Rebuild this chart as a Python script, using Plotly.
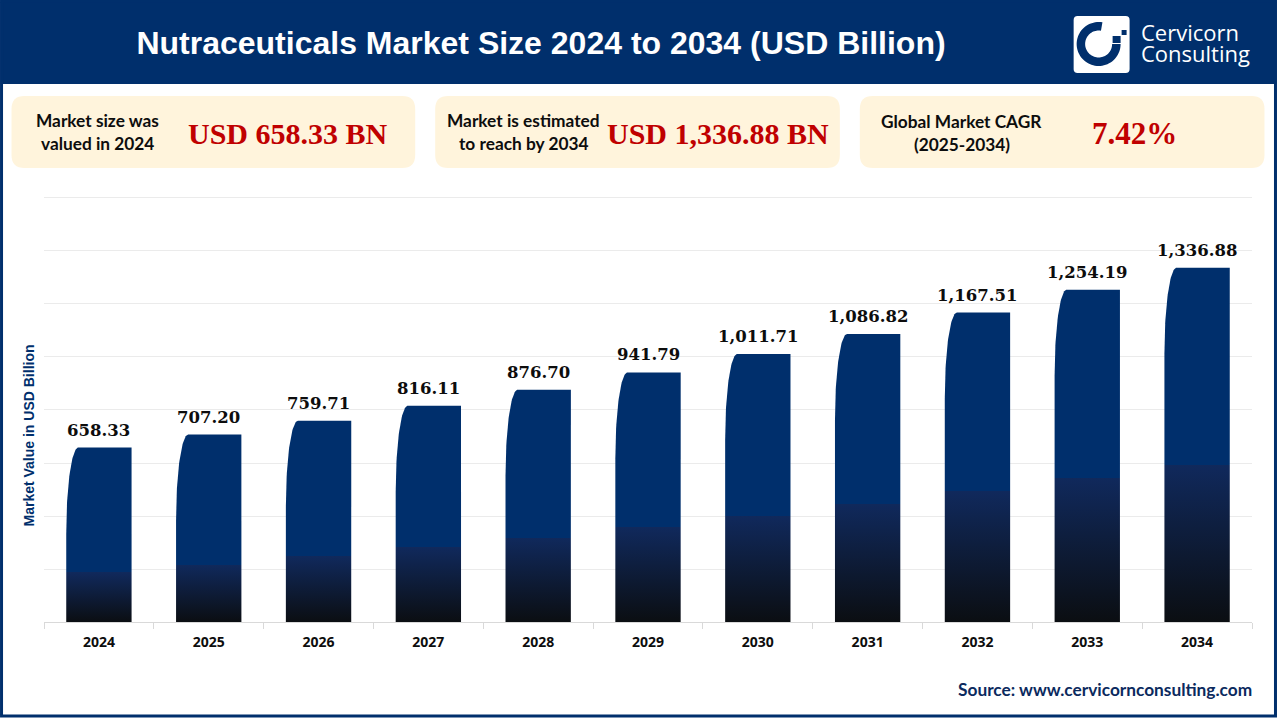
#!/usr/bin/env python3

import numpy as np
import plotly.graph_objects as go

W, H = 1280, 720
# the plot area starts a little above the top gridline, plotly drops gridlines on the very edge
PLOT_L, PLOT_R, PLOT_T, PLOT_B = 43.5, 1252.5, 196, 622
Y_MAX = 1607.5

NAVY = '#002f6c'
RED = '#c00000'
CREAM = '#fff4dc'

years = ['2024', '2025', '2026', '2027', '2028', '2029', '2030', '2031', '2032', '2033', '2034']
values = [658.33, 707.20, 759.71, 816.11, 876.70, 941.79, 1011.71, 1086.82, 1167.51, 1254.19, 1336.88]
value_labels = ['658.33', '707.20', '759.71', '816.11', '876.70', '941.79',
                '1,011.71', '1,086.82', '1,167.51', '1,254.19', '1,336.88']
y_ticks = [0, 200, 400, 600, 800, 1000, 1200, 1400, 1600]

BAR_W = 0.595
CORNER_X = 0.11
CORNER_Y = 325


def px(x):
    return (x - PLOT_L) / (PLOT_R - PLOT_L)


def py(y):
    return (PLOT_B - y) / (PLOT_B - PLOT_T)


def rounded_rect(x0, y0, x1, y1, r):
    pts = 'M{},{} L{},{} Q{},{} {},{} L{},{} Q{},{} {},{} L{},{} Q{},{} {},{} L{},{} Q{},{} {},{} Z'.format(
        px(x0 + r), py(y0), px(x1 - r), py(y0), px(x1), py(y0), px(x1), py(y0 + r),
        px(x1), py(y1 - r), px(x1), py(y1), px(x1 - r), py(y1),
        px(x0 + r), py(y1), px(x0), py(y1), px(x0), py(y1 - r),
        px(x0), py(y0 + r), px(x0), py(y0), px(x0 + r), py(y0))
    return dict(type='path', xref='paper', yref='paper', path=pts, line_width=0)


def polygon(points):
    path = 'M' + ' L'.join('{},{}'.format(px(x), py(y)) for x, y in points) + ' Z'
    return dict(type='path', xref='paper', yref='paper', path=path,
                line_width=0, fillcolor=NAVY, layer='above')


def label(text, x, y, size, color, family, anchor='center'):
    return dict(text=text, x=px(x), y=py(y), xref='paper', yref='paper',
                xanchor=anchor, yanchor='middle', showarrow=False,
                font=dict(size=size, color=color, family=family))


def bar_outline(i, value):
    # square right side, long elliptical curve on the top-left corner
    left, right = i - BAR_W / 2, i + BAR_W / 2
    t = np.linspace(0, np.pi / 2, 40)
    curve_x = left + CORNER_X * (1 - np.cos(t))
    curve_y = value - CORNER_Y * (1 - np.sin(t))
    xs = [right, left] + curve_x.tolist() + [right, right]
    ys = [0, 0] + curve_y.tolist() + [value, 0]
    return xs, ys


fig = go.Figure()

for i, v in enumerate(values):
    xs, ys = bar_outline(i, v)
    # the dark fade reaches higher up on the taller bars
    fade = (0.6 * v - 208) / v
    fig.add_trace(go.Scatter(
        x=xs, y=ys, mode='lines', fill='toself', line=dict(width=0),
        hoverinfo='skip', showlegend=False, name=years[i],
        fillgradient=dict(
            type='vertical', start=0, stop=v,
            colorscale=[[0, '#0b0e12'], [fade, '#10295c'], [fade, NAVY], [1, NAVY]],
        ),
    ))

shapes = [
    dict(type='rect', xref='paper', yref='paper', x0=px(0), x1=px(1277), y0=py(0), y1=py(84),
         fillcolor=NAVY, line_width=0, layer='below'),
    dict(type='rect', xref='paper', yref='paper', x0=px(1), x1=px(1276), y0=py(1), y1=py(716),
         line=dict(color=NAVY, width=3), layer='below'),
]

for x0, x1 in [(11, 415), (435, 840), (860, 1265)]:
    shapes.append(dict(rounded_rect(x0, 96, x1, 168, 13), fillcolor=CREAM, layer='below'))

# logo
shapes.append(dict(rounded_rect(1074, 16, 1130, 73, 4), fillcolor='white', layer='above'))
a = np.radians(np.linspace(80, 360, 60))
cx, cy = 1099, 44
outer = [(cx + 22 * np.cos(t), cy - 22 * np.sin(t)) for t in a]
inner = [(cx + 13.5 * np.cos(t), cy - 13.5 * np.sin(t)) for t in a[::-1]]
shapes.append(polygon(outer + inner))
shapes.append(polygon([(1122, 30), (1127, 30), (1127, 35), (1122, 35)]))
shapes.append(polygon([(1113, 36), (1121, 36), (1121, 43), (1113, 43)]))

SANS = 'Lato'
annotations = [
    label('<b>Market size was</b>', 97, 120, 17.3, '#0d0d0d', SANS),
    label('<b>valued in 2024</b>', 97, 143, 17.3, '#0d0d0d', SANS),
    label('<b>USD 658.33 BN</b>', 288, 133, 30, RED, 'Liberation Serif'),
    label('<b>Market is estimated</b>', 523, 120, 17.3, '#0d0d0d', SANS),
    label('<b>to reach by 2034</b>', 524, 143, 17.3, '#0d0d0d', SANS),
    label('<b>USD 1,336.88 BN</b>', 718, 133, 30, RED, 'Liberation Serif'),
    label('<b>Global Market CAGR</b>', 962, 121, 17.3, '#0d0d0d', SANS),
    label('<b>(2025-2034)</b>', 962, 144, 17.3, '#0d0d0d', SANS),
    label('<b>7.42%</b>', 1135, 133, 31, RED, 'Liberation Serif'),
    label('Cervicorn', 1139, 32, 22, 'white', 'Open Sans', 'left'),
    label('Consulting', 1139, 53, 22, 'white', 'Open Sans', 'left'),
    label('<b>Source: www.cervicornconsulting.com</b>', 1255, 689, 17.3, '#0b2a5e', SANS, 'right'),
    dict(label('<b>Market Value in USD Billion</b>', 28, 436, 14, NAVY, 'Liberation Sans'), textangle=-90),
]

# value labels sit on the bar tops
for i, v in enumerate(values):
    annotations.append(dict(
        text='<b>{}</b>'.format(value_labels[i]), x=i, y=v, xref='x', yref='y',
        xanchor='center', yanchor='bottom', yshift=6, showarrow=False,
        font=dict(size=16.5, color='#0d0d0d', family='DejaVu Serif'),
    ))

fig.update_layout(
    width=W, height=H,
    margin=dict(l=PLOT_L, r=W - PLOT_R, t=PLOT_T, b=H - PLOT_B, pad=0),
    paper_bgcolor='white', plot_bgcolor='white',
    showlegend=False,
    title=dict(
        text='<b>Nutraceuticals Market Size 2024 to 2034 (USD Billion)</b>',
        x=541 / W, xref='container', xanchor='center',
        y=1 - 43 / H, yref='container', yanchor='middle',
        font=dict(size=32, color='white', family='Liberation Sans'),
    ),
    shapes=shapes,
    annotations=annotations,
)
fig.update_xaxes(
    range=[-0.5, len(years) - 0.5],
    tickvals=list(range(len(years))), ticktext=years, ticks='', showgrid=False,
    tickfont=dict(size=14, color='#0d0d0d', family='Open Sans', weight='bold'),
    ticklabelstandoff=7,
    showline=True, linecolor='#d9d9d9', linewidth=1, zeroline=False,
    minor=dict(tickvals=[i - 0.5 for i in range(len(years) + 1)], ticks='outside',
               ticklen=6, tickcolor='#d9d9d9', tickwidth=1, showgrid=False),
)
fig.update_yaxes(
    range=[0, Y_MAX], tickvals=y_ticks, showticklabels=False, ticks='',
    showgrid=True, gridcolor='#ebebeb', gridwidth=1, zeroline=False, showline=False,
)

fig.write_html('out.html', config={'displayModeBar': False},
               post_script="document.body.style.margin='0';")
